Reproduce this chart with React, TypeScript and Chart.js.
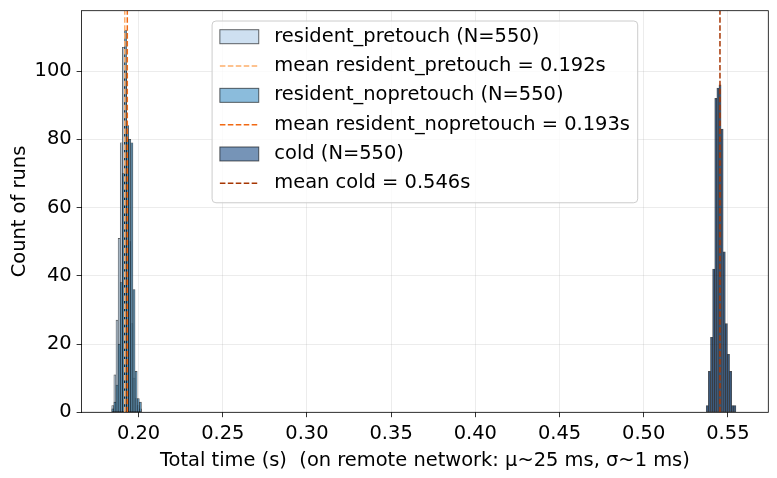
import React, { useEffect, useRef } from "react";
import { Chart, registerables } from "chart.js";

Chart.register(...registerables);

// ---------------- data ----------------
const SERIES_LABELS = [
  "resident_pretouch (N=550)",
  "resident_nopretouch (N=550)",
  "cold (N=550)",
];
const MEAN_LABELS = [
  "mean resident_pretouch = 0.192s",
  "mean resident_nopretouch = 0.193s",
  "mean cold = 0.546s",
];

// bin centres (s) of the two resident histograms (shared bins)
const RESIDENT_BINS = [
  0.18469, 0.18595, 0.18721, 0.18847, 0.18973, 0.19099, 0.19225,
  0.19351, 0.19477, 0.19603, 0.19729, 0.19855, 0.19981, 0.20107,
];
const PRETOUCH_COUNTS = [2, 11, 27, 51, 79, 107, 100, 80, 50, 26, 10, 4, 2, 1];
const NOPRETOUCH_COUNTS = [1, 3, 8, 20, 38, 70, 112, 84, 80, 79, 36, 12, 4, 3];

// bin centres (s) of the cold histogram
const COLD_BINS = [
  0.53777, 0.53903, 0.54029, 0.54155, 0.54281, 0.54407, 0.54533,
  0.54659, 0.54785, 0.54911, 0.55037, 0.55163, 0.55289, 0.55415,
];
const COLD_COUNTS = [2, 12, 22, 42, 92, 95, 96, 83, 47, 26, 17, 12, 2, 2];

const MEANS = [0.1918, 0.1933, 0.5453];

const X_TICKS = [0.2, 0.25, 0.3, 0.35, 0.4, 0.45, 0.5, 0.55];
const Y_TICKS = [0, 20, 40, 60, 80, 100];
const X_MIN = 0.1661;
const X_MAX = 0.574;
const Y_MAX = 117.7;
const X_TITLE = "Total time (s)  (on remote network: μ~25 ms, σ~1 ms)";
const Y_TITLE = "Count of runs";

// ---------------- styles ----------------
const FONT = "DejaVu Sans";
const FS = 19.44;
const BAR_FILLS = [
  "rgba(198,219,239,0.85)",
  "rgba(100,165,208,0.75)",
  "rgba(45,90,145,0.65)",
];
const BAR_EDGE = "rgba(0,0,0,0.7)";
const MEAN_COLORS = ["#fdae6b", "#f16913", "#a63603"];
const DASH = [5.55, 2.4];

const spinesPlugin = {
  id: "spines",
  afterDatasetsDraw(chart: any) {
    const { ctx, chartArea } = chart;
    ctx.save();
    ctx.strokeStyle = "#000";
    ctx.lineWidth = 0.8;
    ctx.strokeRect(
      chartArea.left,
      chartArea.top,
      chartArea.right - chartArea.left,
      chartArea.bottom - chartArea.top
    );
    ctx.restore();
  },
};

const legendPlugin = {
  id: "mplLegend",
  afterDraw(chart: any) {
    const { ctx, chartArea } = chart;
    const ds = chart.data.datasets;
    const entries: any[] = [];
    for (let i = 0; i < 3; i++) {
      entries.push({ kind: "bar", label: ds[i].label, color: ds[i].backgroundColor });
      entries.push({ kind: "line", label: ds[i + 3].label, color: ds[i + 3].borderColor });
    }
    ctx.save();
    ctx.font = `${FS}px "${FONT}"`;
    const maxW = Math.max(...entries.map((e) => ctx.measureText(e.label).width));
    const pad = 0.4 * FS;
    const handleLen = 2 * FS;
    const textPad = 0.8 * FS;
    const w = 2 * pad + handleLen + textPad + maxW;
    const h = 9.35 * FS;
    const cx = (chartArea.left + chartArea.right) / 2;
    const x0 = cx - w / 2;
    const y0 = chartArea.top + 0.53 * FS;
    ctx.beginPath();
    (ctx as any).roundRect(x0, y0, w, h, 0.2 * FS);
    ctx.fillStyle = "rgba(255,255,255,0.8)";
    ctx.fill();
    ctx.strokeStyle = "#cccccc";
    ctx.lineWidth = 1;
    ctx.stroke();
    const pitch = 1.508 * FS;
    entries.forEach((e, i) => {
      const cy = y0 + 0.808 * FS + i * pitch;
      const hx = x0 + pad;
      if (e.kind === "bar") {
        const hh = 0.72 * FS;
        ctx.fillStyle = "#fff";
        ctx.fillRect(hx, cy - hh / 2, handleLen, hh);
        ctx.fillStyle = e.color;
        ctx.fillRect(hx, cy - hh / 2, handleLen, hh);
        ctx.strokeStyle = "rgba(0,0,0,0.6)";
        ctx.lineWidth = 1;
        ctx.strokeRect(hx, cy - hh / 2, handleLen, hh);
      } else {
        ctx.beginPath();
        ctx.setLineDash(DASH);
        ctx.strokeStyle = e.color;
        ctx.lineWidth = 1.5;
        ctx.moveTo(hx, cy);
        ctx.lineTo(hx + handleLen, cy);
        ctx.stroke();
        ctx.setLineDash([]);
      }
      ctx.fillStyle = "#000";
      ctx.textBaseline = "middle";
      ctx.textAlign = "left";
      ctx.fillText(e.label, hx + handleLen + textPad, cy);
    });
    ctx.restore();
  },
};

export default function App() {
  const ref = useRef<HTMLCanvasElement | null>(null);

  useEffect(() => {
    if (!ref.current) return;
    Chart.defaults.font.family = FONT;
    Chart.defaults.font.size = FS;
    Chart.defaults.color = "#000";

    const barCommon = {
      type: "bar" as const,
      borderColor: BAR_EDGE,
      borderWidth: 0.7,
      borderSkipped: false,
      grouped: false,
      barPercentage: 1,
      categoryPercentage: 1,
    };

    const datasets: any[] = [
      {
        ...barCommon,
        label: SERIES_LABELS[0],
        data: RESIDENT_BINS.map((x, i) => ({ x, y: PRETOUCH_COUNTS[i] })),
        backgroundColor: BAR_FILLS[0],
        order: 10,
      },
      {
        ...barCommon,
        label: SERIES_LABELS[1],
        data: RESIDENT_BINS.map((x, i) => ({ x, y: NOPRETOUCH_COUNTS[i] })),
        backgroundColor: BAR_FILLS[1],
        order: 9,
      },
      {
        ...barCommon,
        label: SERIES_LABELS[2],
        data: COLD_BINS.map((x, i) => ({ x, y: COLD_COUNTS[i] })),
        backgroundColor: BAR_FILLS[2],
        order: 8,
      },
    ];
    MEANS.forEach((m, i) => {
      datasets.push({
        type: "line",
        label: MEAN_LABELS[i],
        data: [
          { x: m, y: 0 },
          { x: m, y: Y_MAX },
        ],
        borderColor: MEAN_COLORS[i],
        backgroundColor: MEAN_COLORS[i],
        borderDash: DASH,
        borderWidth: 1.5,
        pointRadius: 0,
        fill: false,
        tension: 0,
        order: 2 - i,
      });
    });

    const chart = new Chart(ref.current, {
      type: "bar",
      data: { datasets },
      options: {
        animation: false,
        responsive: false,
        events: [],
        layout: { padding: { left: 0, top: 10.7, right: 8.7, bottom: 0 } },
        plugins: {
          legend: { display: false },
          tooltip: { enabled: false },
        },
        scales: {
          x: {
            type: "linear",
            min: X_MIN,
            max: X_MAX,
            offset: false,
            afterBuildTicks: (s: any) => {
              s.ticks = X_TICKS.map((v) => ({ value: v }));
            },
            afterFit: (s: any) => {
              s.height = 65.7;
              s.paddingLeft = 0;
              s.paddingRight = 0;
            },
            ticks: {
              callback: (v: any) => Number(v).toFixed(2),
              padding: 4.9,
              maxRotation: 0,
              autoSkip: false,
              font: { family: FONT, size: FS },
              color: "#000",
            },
            grid: {
              offset: false,
              color: "rgba(176,176,176,0.3)",
              lineWidth: 0.8,
              tickLength: 4.9,
              tickColor: "#000",
              tickWidth: 0.8,
            },
            border: { display: false },
            title: {
              display: true,
              text: X_TITLE,
              font: { family: FONT, size: FS },
              color: "#000",
              padding: { top: 0, bottom: 5 },
            },
          },
          y: {
            type: "linear",
            min: 0,
            max: Y_MAX,
            afterBuildTicks: (s: any) => {
              s.ticks = Y_TICKS.map((v) => ({ value: v }));
            },
            afterFit: (s: any) => {
              s.width = 81.5;
              s.paddingTop = 0;
              s.paddingBottom = 0;
            },
            ticks: {
              padding: 4.9,
              autoSkip: false,
              font: { family: FONT, size: FS },
              color: "#000",
            },
            grid: {
              color: "rgba(176,176,176,0.3)",
              lineWidth: 0.8,
              tickLength: 4.9,
              tickColor: "#000",
              tickWidth: 0.8,
            },
            border: { display: false },
            title: {
              display: true,
              text: Y_TITLE,
              font: { family: FONT, size: FS },
              color: "#000",
              padding: { top: 8, bottom: 0 },
            },
          },
        },
      } as any,
      plugins: [spinesPlugin, legendPlugin],
    });
    return () => chart.destroy();
  }, []);

  return (
    <div style={{ position: "fixed", left: 0, top: 0, width: 777, height: 478, background: "#fff" }}>
      <canvas ref={ref} width={777} height={478} style={{ width: 777, height: 478, display: "block" }} />
    </div>
  );
}
